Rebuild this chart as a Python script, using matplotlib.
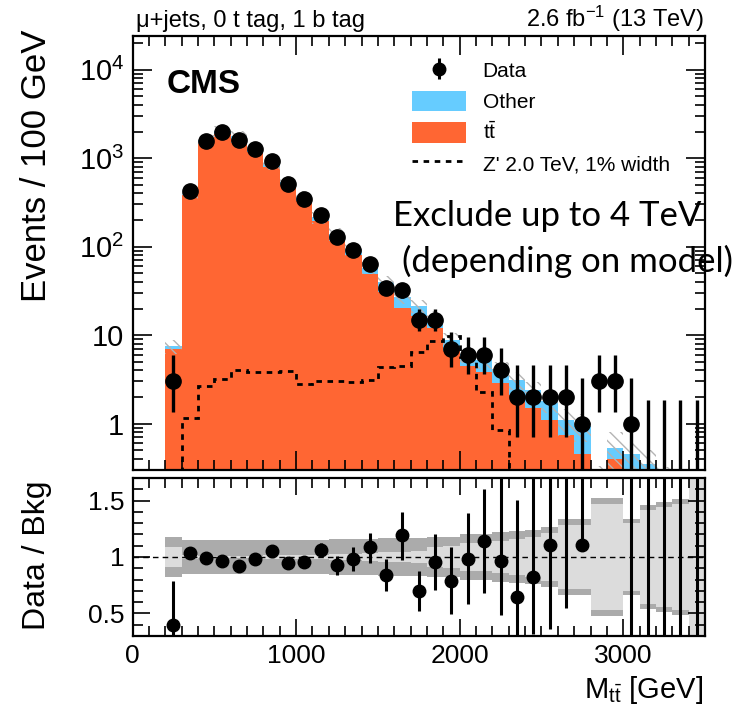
import numpy as np
import matplotlib
matplotlib.use('Agg')
import matplotlib.pyplot as plt
from matplotlib.patches import Patch
from matplotlib.lines import Line2D
from matplotlib.ticker import FixedLocator, MultipleLocator, NullFormatter, FuncFormatter, LogLocator

plt.rcParams['font.family'] = ['Liberation Sans', 'DejaVu Sans']
plt.rcParams['mathtext.fontset'] = 'custom'
plt.rcParams['mathtext.rm'] = 'Liberation Sans'
plt.rcParams['mathtext.it'] = 'Liberation Sans:italic'
plt.rcParams['mathtext.bf'] = 'Liberation Sans:bold'
plt.rcParams['hatch.linewidth'] = 1.0

# ---------------- data ----------------
bin_edges = np.arange(200, 3501, 100)
bin_centers = bin_edges[:-1] + 50

data = np.array([3, 422, 1580, 1960, 1620, 1270, 920, 515, 349, 230, 129, 92, 63, 34, 32,
                 15, 15, 7, 6, 6, 4, 2, 2, 2, 2, 1, 3, 3, 1, 0, 0, 0, 0], dtype=float)
data_err_lo = np.array([1.63, 20.5, 39.7, 44.3, 40.2, 35.6, 30.3, 22.7, 18.7, 15.2, 11.4, 9.6, 7.9, 5.8, 5.6,
                        3.82, 3.82, 2.58, 2.38, 2.38, 1.91, 1.29, 1.29, 1.29, 1.29, 0.83, 1.63, 1.63, 0.83,
                        0, 0, 0, 0])
data_err_hi = np.array([2.92, 21.5, 40.7, 45.3, 41.2, 36.6, 31.3, 23.7, 19.7, 16.2, 12.4, 10.6, 8.9, 6.9, 6.7,
                        4.96, 4.96, 3.78, 3.58, 3.58, 3.16, 2.64, 2.64, 2.64, 2.64, 2.30, 2.92, 2.92, 2.30,
                        1.84, 1.84, 1.84, 1.84])

ttbar = np.array([7.0, 380, 1470, 1870, 1630, 1185, 800, 495, 330, 193, 123, 80, 49, 31, 20.5,
                  16.5, 12.0, 6.6, 4.5, 3.8, 2.9, 2.1, 1.5, 1.1, 0.75, 0.45, 0.1, 0.4, 0.15,
                  0.05, 0.02, 0.01, 0.01])
other = np.array([0.5, 28, 126, 157, 137, 104, 71, 49, 35, 23, 16, 13.4, 9, 9.3, 6.2,
                  5.1, 3.7, 2.3, 1.6, 1.4, 1.2, 1.0, 0.9, 0.7, 0.35, 0.5, 0.12, 0.13, 0.31,
                  0.3, 0.2, 0.15, 0.1])
zprime = np.array([0, 1.16, 2.7, 3.2, 4.0, 3.8, 3.8, 3.9, 2.8, 3.0, 3.0, 2.96, 3.1, 4.4, 4.5,
                   6.4, 8.7, 9.7, 5.7, 2.3, 0.86, 0, 0, 0, 0, 0, 0, 0, 0, 0, 0, 0, 0])

ratio = np.array([0.40, 1.035, 0.99, 0.967, 0.917, 0.985, 1.056, 0.947, 0.956, 1.065, 0.926, 0.985,
                  1.085, 0.843, 1.197, 0.696, 0.956, 0.79, 0.985, 1.144, 0.967, 0.65, 0.82, 1.109,
                  2.2, 1.103, 15.0, 6.0, 2.2, 0.0, 0.0, 0.0, 0.0])
ratio_err_lo = np.array([0.40, 0.05, 0.025, 0.022, 0.023, 0.028, 0.035, 0.042, 0.051, 0.06, 0.083, 0.105,
                         0.138, 0.143, 0.221, 0.176, 0.246, 0.295, 0.401, 0.464, 0.484, 0.42, 0.50, 0.75,
                         1.65, 0.0, 13.0, 4.0, 1.9, 0.0, 0.0, 0.0, 0.0])
ratio_err_hi = np.array([0.39, 0.05, 0.025, 0.022, 0.023, 0.028, 0.035, 0.042, 0.051, 0.059, 0.079, 0.10,
                         0.125, 0.142, 0.203, 0.177, 0.244, 0.295, 0.405, 0.456, 0.77, 0.857, 1.08, 1.47,
                         3.0, 2.5, 10.0, 6.0, 5.0, 6.0, 6.0, 6.0, 6.0])

tot_unc = np.array([0.18, 0.15, 0.15, 0.15, 0.15, 0.15, 0.15, 0.15, 0.155, 0.155, 0.16, 0.16, 0.16, 0.165,
                    0.165, 0.17, 0.18, 0.18, 0.20, 0.20, 0.22, 0.23, 0.24, 0.27, 0.34, 0.34, 0.52, 0.52,
                    0.34, 0.46, 0.49, 0.51, 0.75])
stat_unc = np.array([0.09, 0.02, 0.01, 0.01, 0.01, 0.01, 0.015, 0.015, 0.02, 0.02, 0.025, 0.03, 0.035,
                     0.04, 0.045, 0.05, 0.09, 0.095, 0.12, 0.125, 0.14, 0.16, 0.18, 0.21, 0.28, 0.28,
                     0.47, 0.47, 0.30, 0.42, 0.44, 0.47, 0.75])

# ---------------- style ----------------
c_other = '#66ccff'
c_tt = '#ff6633'
W, H = 747, 719


def rect(l, t, r, b):
    return [l / W, 1 - b / H, (r - l) / W, (b - t) / H]


fig = plt.figure(figsize=(W / 100, H / 100), dpi=100)
ax = fig.add_axes(rect(132.5, 36, 705, 470))
rax = fig.add_axes(rect(132.5, 478, 705, 636))

# ---------------- main pad ----------------
total = ttbar + other
ax.stairs(total, bin_edges, baseline=1e-3, fill=True, color=c_other, lw=0)
ax.stairs(ttbar, bin_edges, baseline=1e-3, fill=True, color=c_tt, lw=0)
ax.stairs(total * (1 + tot_unc), bin_edges, baseline=np.maximum(total * (1 - tot_unc), 1e-3),
          fill=True, facecolor='none', edgecolor='#b4b4b4', hatch='\\\\\\', lw=0)
ax.stairs(np.where(zprime > 0, zprime, 1e-3), bin_edges, baseline=None, color='k',
          ls=(0, (2.0, 2.0)), lw=2.0)
ax.vlines(bin_centers, np.maximum(data - data_err_lo, 1e-3), data + data_err_hi, color='k', lw=2.4)
m = data > 0
ax.plot(bin_centers[m], data[m], 'o', ms=11, color='k')

ax.set_yscale('log')
ax.set_xlim(0, 3500)
ax.set_ylim(0.3, 2.4e4)
ax.yaxis.set_major_locator(FixedLocator([1, 10, 100, 1000, 10000]))
ax.yaxis.set_minor_locator(LogLocator(base=10, subs=np.arange(2, 10), numticks=20))
labs = {1: '1', 10: '10', 100: '$10^{2}$', 1000: '$10^{3}$', 10000: '$10^{4}$'}
ax.yaxis.set_major_formatter(FuncFormatter(lambda v, p: labs.get(int(round(v)), '')))
ax.yaxis.set_minor_formatter(NullFormatter())
ax.xaxis.set_major_locator(MultipleLocator(1000))
ax.xaxis.set_minor_locator(MultipleLocator(100))
ax.tick_params(which='both', direction='in', top=True, right=True, width=1.2)
ax.tick_params(which='major', length=14, labelsize=21, pad=6)
ax.tick_params(which='minor', length=7)
ax.tick_params(axis='x', labelbottom=False)
for s in ax.spines.values():
    s.set_linewidth(1.6)

ax.text(0.06, 0.925, 'CMS', transform=ax.transAxes, fontsize=24, fontweight='bold',
        ha='left', va='top')

data_handle = ax.errorbar([np.nan], [np.nan], yerr=[1.0], fmt='o', color='k', ms=9, elinewidth=2.2)
handles = [data_handle,
           Patch(facecolor=c_other, edgecolor='none'),
           Patch(facecolor=c_tt, edgecolor='none'),
           Line2D([], [], color='k', ls=(0, (2.0, 2.0)), lw=2.0)]
labels = ['Data', 'Other', r't$\bar{\rm t}$', "Z' 2.0 TeV, 1% width"]
ax.legend(handles, labels, loc='upper left', bbox_to_anchor=(0.488, 0.945), frameon=False,
          fontsize=15, handlelength=2.6, handleheight=1.15, labelspacing=0.45,
          handletextpad=0.8, borderpad=0, borderaxespad=0)

# ---------------- ratio pad ----------------
rax.stairs(1 + tot_unc, bin_edges, baseline=1 - tot_unc, fill=True, color='#ababab', lw=0)
rax.stairs(1 + stat_unc, bin_edges, baseline=1 - stat_unc, fill=True, color='#dcdcdc', lw=0)
rax.axhline(1, color='k', ls=(0, (4, 3)), lw=1.0)
rax.vlines(bin_centers, ratio - ratio_err_lo, ratio + ratio_err_hi, color='k', lw=2.2)
rax.plot(bin_centers, ratio, 'o', ms=9, color='k')
rax.set_xlim(0, 3500)
rax.set_ylim(0.3, 1.7)
rax.yaxis.set_major_locator(FixedLocator([0.5, 1.0, 1.5]))
rax.yaxis.set_major_formatter(FuncFormatter(lambda v, p: ('%g' % v)))
rax.yaxis.set_minor_locator(MultipleLocator(0.1))
rax.xaxis.set_major_locator(MultipleLocator(1000))
rax.xaxis.set_minor_locator(MultipleLocator(100))
rax.tick_params(which='both', direction='in', top=True, right=True, width=1.2)
rax.tick_params(which='major', length=12, labelsize=19, pad=6)
rax.tick_params(which='minor', length=7)
for s in rax.spines.values():
    s.set_linewidth(1.6)

# ---------------- texts ----------------
fig.text(136 / W, 1 - 27 / H, 'μ+jets, 0 t tag, 1 b tag', ha='left', va='baseline', fontsize=17)
fig.text(704 / W, 1 - 27 / H, r'2.6 fb$^{-1}$ (13 TeV)', ha='right', va='baseline', fontsize=17)
fig.text(37 / W, 1 - 30 / H, 'Events / 100 GeV', rotation=90, ha='center', va='top', fontsize=25)
fig.text(37 / W, 1 - 481 / H, 'Data / Bkg', rotation=90, ha='center', va='top', fontsize=23)
fig.text(703 / W, 1 - 690 / H, r'M$_{\rm t\bar{t}}$ [GeV]', ha='right', va='center', fontsize=21)

fig.text(393 / W, 1 - 216 / H, 'Exclude up to 4 TeV', ha='left', va='center', fontsize=25,
         family=['Lato', 'DejaVu Sans'])
fig.text(402 / W, 1 - 261 / H, '(depending on model)', ha='left', va='center', fontsize=25,
         family=['Lato', 'DejaVu Sans'])

fig.savefig('out.png', dpi=100)
